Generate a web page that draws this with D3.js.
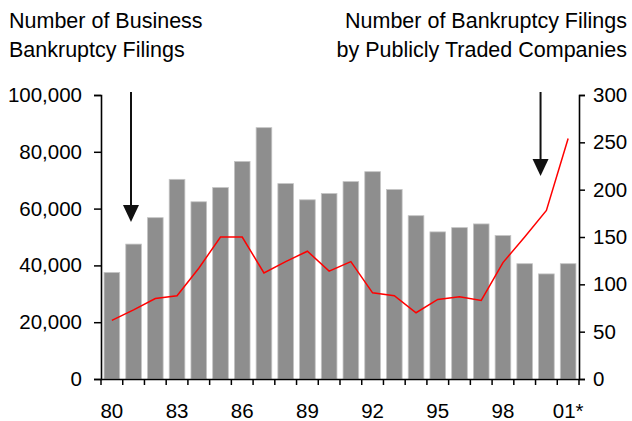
<!DOCTYPE html>
<html>
<head>
<meta charset="utf-8">
<script src="https://cdn.jsdelivr.net/npm/d3@7/dist/d3.min.js"></script>
<style>
  html, body { margin: 0; padding: 0; background: #fff; }
  svg { display: block; }
  text { font-family: "Liberation Sans", Arial, sans-serif; fill: #000; }
</style>
</head>
<body>
<svg id="chart" width="632" height="421"></svg>
<script>
// ---- data ----
const years = ["1980","1981","1982","1983","1984","1985","1986","1987","1988","1989","1990",
               "1991","1992","1993","1994","1995","1996","1997","1998","1999","2000","2001"];
const businessFilings = [37500, 47500, 56800, 70300, 62400, 67400, 76600, 88500, 68800, 63100, 65300,
                         69500, 73000, 66700, 57500, 51800, 53300, 54600, 50500, 40600, 37000, 40600];
const publicFilings = [62, 73, 85, 88, 117, 150, 150, 112, 124, 135, 114,
                       124, 91, 88, 70, 84, 87, 83, 123, 150, 178, 254];
const xTickYears = ["1980","1983","1986","1989","1992","1995","1998","2001"];
const xTickLabels = ["80","83","86","89","92","95","98","01*"];
const leftTicks = [0, 20000, 40000, 60000, 80000, 100000];
const rightTicks = [0, 50, 100, 150, 200, 250, 300];
const leftTitle = ["Number of Business", "Bankruptcy Filings"];
const rightTitle = ["Number of Bankruptcy Filings", "by Publicly Traded Companies"];
const arrowYears = [1980.88, 1999.73];

// ---- layout ----
const svg = d3.select("#chart");
const L = 101, R = 579, T = 95, B = 379;

const x = d3.scaleBand().domain(years).range([L, R]).paddingInner(0.28).paddingOuter(0.14);
const yL = d3.scaleLinear().domain([0, 100000]).range([B, T]);
const yR = d3.scaleLinear().domain([0, 300]).range([B, T]);
const yearX = d3.scaleLinear().domain([1980, 2001])
  .range([x("1980") + x.bandwidth() / 2, x("2001") + x.bandwidth() / 2]);

// bars
svg.append("g").selectAll("rect").data(businessFilings).join("rect")
  .attr("x", (d, i) => x(years[i]))
  .attr("y", d => yL(d))
  .attr("width", x.bandwidth())
  .attr("height", d => B - yL(d))
  .attr("fill", "#8e8e8e")
  .attr("stroke", "#c4c4c4")
  .attr("stroke-width", 0.8);

// line
const line = d3.line()
  .x((d, i) => x(years[i]) + x.bandwidth() / 2)
  .y(d => yR(d));
svg.append("path").datum(publicFilings)
  .attr("d", line)
  .attr("fill", "none")
  .attr("stroke", "#ff0000")
  .attr("stroke-width", 1.5);

// axes
const fmt = d3.format(",");
const gL = svg.append("g").attr("transform", `translate(${L},0)`)
  .call(d3.axisLeft(yL).tickValues(leftTicks).tickFormat(fmt).tickSize(7).tickPadding(12));
const gR = svg.append("g").attr("transform", `translate(${R},0)`)
  .call(d3.axisRight(yR).tickValues(rightTicks).tickSize(6).tickPadding(8));
const gX = svg.append("g").attr("transform", `translate(0,${B})`)
  .call(d3.axisBottom(x).tickValues(xTickYears)
    .tickFormat(d => xTickLabels[xTickYears.indexOf(d)])
    .tickSize(0).tickSizeOuter(0).tickPadding(24));
// boundary ticks on x axis
gX.selectAll("line.bt").data(d3.range(years.length + 1)).join("line")
  .attr("class", "bt")
  .attr("x1", i => x.range()[0] + i * x.step())
  .attr("x2", i => x.range()[0] + i * x.step())
  .attr("y1", 0).attr("y2", 6)
  .attr("stroke", "#000").attr("stroke-width", 1.5);

[gL, gR, gX].forEach(g => {
  g.selectAll("path.domain").attr("stroke", "#000").attr("stroke-width", 1.6);
  g.selectAll(".tick line").attr("stroke", "#000").attr("stroke-width", 1.5);
  g.selectAll("text").attr("font-size", 20.5).attr("font-family", "Liberation Sans, Arial, sans-serif").attr("fill", "#000");
});

// titles
svg.append("g").selectAll("text").data(leftTitle).join("text")
  .attr("x", 9).attr("y", (d, i) => 28 + i * 29)
  .attr("font-size", 21.5).text(d => d);
svg.append("g").selectAll("text").data(rightTitle).join("text")
  .attr("x", 627).attr("y", (d, i) => 28 + i * 29)
  .attr("text-anchor", "end")
  .attr("font-size", 21.5).text(d => d);

// arrows
const arrowTop = 92;
const arrowTips = [222, 176];
arrowYears.forEach((yr, i) => {
  const ax = yearX(yr);
  const tip = arrowTips[i];
  svg.append("line")
    .attr("x1", ax).attr("x2", ax)
    .attr("y1", arrowTop).attr("y2", tip - 12)
    .attr("stroke", "#111").attr("stroke-width", 2);
  svg.append("path")
    .attr("d", `M${ax - 8},${tip - 17} L${ax + 8},${tip - 17} L${ax},${tip} Z`)
    .attr("fill", "#111");
});
</script>
</body>
</html>
